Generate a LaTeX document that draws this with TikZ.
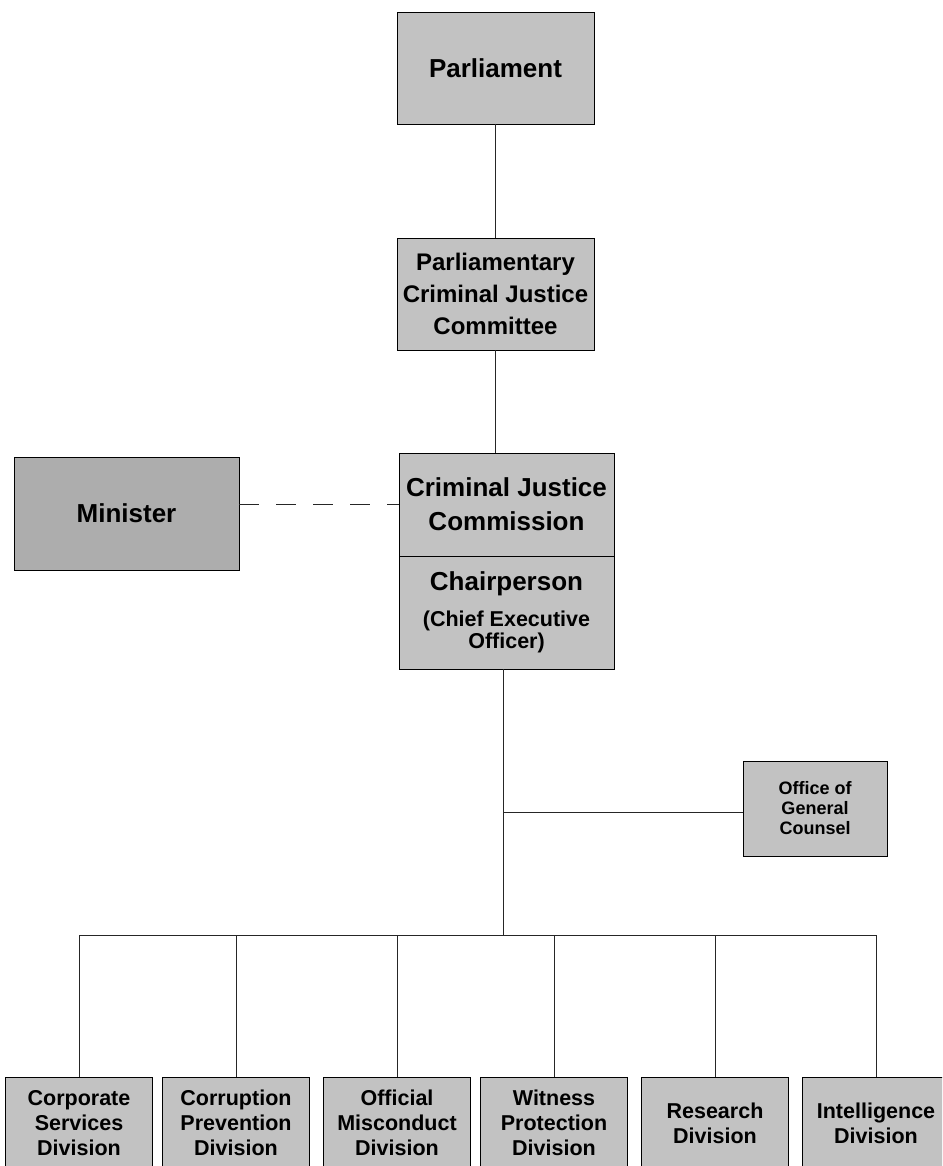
\documentclass[tikz,border=0pt]{standalone}
\usepackage{fontspec}
\setmainfont{Liberation Sans}
\usepackage{xcolor}
\usepackage{tikz}
\usetikzlibrary{positioning}

\begin{document}
\begin{tikzpicture}[x=1pt, y=-1pt,
  unit/.style={draw, line width=0.9pt, fill=black!24, align=center, inner sep=0pt, outer sep=0pt,
    minimum width=#1, font=\bfseries\fontsize{26}{34}\selectfont},
  divbox/.style={draw, line width=0.9pt, fill=black!24, align=center, inner sep=0pt, outer sep=0pt,
    anchor=north, minimum width=147pt, minimum height=92pt, font=\bfseries\fontsize{21.5}{25}\selectfont},
  link/.style={line width=0.8pt, black!85}
]
  \useasboundingbox (0,0) rectangle (942,1166);
  \clip (0,0) rectangle (942,1166);

  % top of the chart
  \node[unit=197pt, minimum height=112pt] (parl) at (495.5,68) {Parliament};
  \node[unit=197pt, minimum height=112pt, font=\bfseries\fontsize{24}{32}\selectfont] (pcjc) at (495.5,294)
    {Parliamentary\\Criminal Justice\\Committee};
  \node[unit=215pt, minimum height=103pt] (cjc) at (506.5,504.5) {Criminal Justice\\Commission};
  \node[unit=215pt, minimum height=113pt, below=0pt of cjc, font=\bfseries\fontsize{26}{22}\selectfont] (chair)
    {Chairperson\\[14pt]\fontsize{21.5}{22}\selectfont(Chief Executive\\\fontsize{21.5}{22}\selectfont Officer)};
  \node[unit=225pt, minimum height=113pt, fill=black!32] (min) at (126.5,513.5) {Minister};
  \node[unit=144pt, minimum height=95pt, font=\bfseries\fontsize{18}{20}\selectfont] (ogc) at (815,808.5)
    {Office of\\General\\Counsel};

  % divisions
  \node[divbox] (corp) at (79,1077) {Corporate\\Services\\Division};
  \node[divbox] (corr) at (236,1077) {Corruption\\Prevention\\Division};
  \node[divbox] (misc) at (397,1077) {Official\\Misconduct\\Division};
  \node[divbox] (wit) at (554,1077) {Witness\\Protection\\Division};
  \node[divbox] (res) at (715,1077) {Research\\Division};
  \node[divbox] (intel) at (876,1077) {Intelligence\\Division};

  \coordinate (tap) at (503,812);
  \coordinate (hub) at (503,935);

  \draw[link] (parl) -- (pcjc);
  \draw[link] (pcjc.south) -- (pcjc.south |- cjc.north);
  \draw[link, dash pattern=on 20pt off 17pt] (min.east |- cjc.west) -- (cjc.west);
  \draw[link] (hub |- chair.south) -- (hub);
  \draw[link] (tap) -- (tap -| ogc.west);
  \draw[link] (hub -| corp.north) -- (hub -| intel.north);
  \foreach \d in {corp,corr,misc,wit,res,intel}
    \draw[link] (hub -| \d.north) -- (\d.north);
\end{tikzpicture}
\end{document}
